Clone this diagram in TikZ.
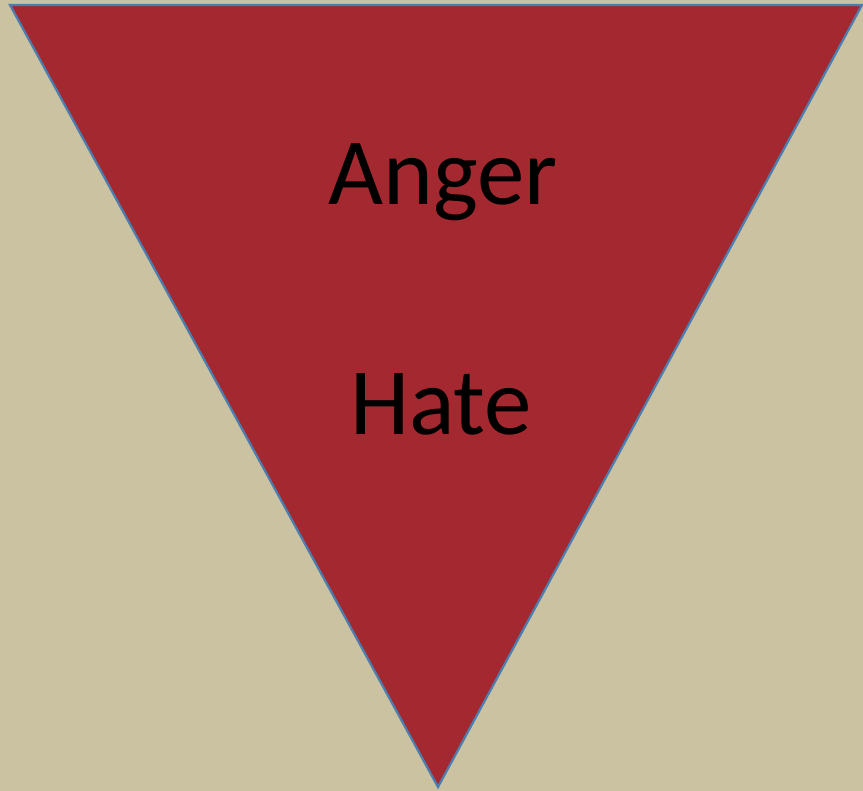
\documentclass[tikz,border=0pt]{standalone}
\usepackage{fontspec}
\setmainfont{Carlito}
\usepackage{tikz}
\definecolor{SandBack}{HTML}{CAC2A1}
\definecolor{AngerRed}{HTML}{A3282F}
\definecolor{EdgeBlue}{HTML}{4A7EB0}
\tikzset{
  funnel/.style={draw=EdgeBlue, line width=2.2pt, fill=AngerRed, line join=miter},
  feeling/.style={anchor=base, inner sep=0pt, font=\fontsize{95}{110}\selectfont, text=black}
}
\begin{document}
\begin{tikzpicture}[x=1pt, y=1pt]
  \fill[SandBack] (0,0) rectangle (863,791);
  \useasboundingbox (0,0) rectangle (863,791);
  \coordinate (topleft) at (10,786);
  \coordinate (topright) at (862,786);
  \coordinate (tip) at (438,4);
  \draw[funnel] (topleft) -- (topright) -- (tip) -- cycle;
  \node[feeling] (anger) at (443,586) {Anger};
  \node[feeling] (hate) at (441,356) {Hate};
\end{tikzpicture}
\end{document}
